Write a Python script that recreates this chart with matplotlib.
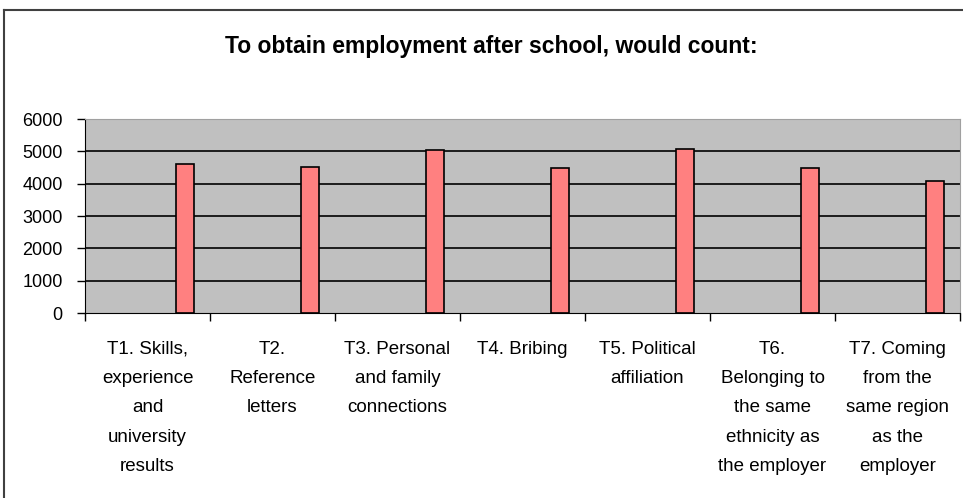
import matplotlib.pyplot as plt
import numpy as np

# survey totals per item
labels = ['T1. Skills,\nexperience\nand\nuniversity\nresults',
          'T2.\nReference\nletters',
          'T3. Personal\nand family\nconnections',
          'T4. Bribing',
          'T5. Political\naffiliation',
          'T6.\nBelonging to\nthe same\nethnicity as\nthe employer',
          'T7. Coming\nfrom the\nsame region\nas the\nemployer']
counts = [4600, 4530, 5030, 4480, 5070, 4470, 4080]
yticks = [0, 1000, 2000, 3000, 4000, 5000, 6000]

plt.rcParams['font.family'] = ['Liberation Sans', 'DejaVu Sans']

fig = plt.figure(figsize=(9.63, 4.98), dpi=100)
ax = fig.add_axes([85/963, 1-313/498, 875/963, 194/498])

x = np.arange(len(counts))
ax.set_facecolor('#C0C0C0')
for y in yticks[1:-1]:
  ax.axhline(y, color='black', lw=1.2, zorder=1)
ax.bar(x + 0.8, counts, width=0.15, color='#FF8080', edgecolor='black', lw=1.2, zorder=2)

ax.set_xlim(0, len(counts))
ax.set_ylim(0, 6000)
ax.set_yticks(yticks)
ax.tick_params(axis='y', direction='out', length=6, width=1, labelsize=13, pad=10)

ax.set_xticks(np.arange(len(counts) + 1))
ax.set_xticklabels([])
ax.set_xticks(x + 0.5, minor=True)
ax.set_xticklabels(labels, minor=True, fontsize=13.5, linespacing=1.95, va='top')
ax.tick_params(axis='x', which='minor', length=0, pad=20)
ax.tick_params(axis='x', which='major', direction='out', length=6, width=1)

ax.spines['left'].set_color('black')
ax.spines['bottom'].set_color('black')
ax.spines['top'].set_color('#A0A0A0')
ax.spines['right'].set_color('#A0A0A0')

fig.text(491/963, 1-47/498, 'To obtain employment after school, would count:',
         ha='center', va='center', fontsize=16.5, fontweight='bold')

# outer chart frame
fig.add_artist(plt.Line2D([4/963, 4/963], [0, 1-10/498], color='#404040', lw=1.5, transform=fig.transFigure))
fig.add_artist(plt.Line2D([4/963, 1], [1-10/498, 1-10/498], color='#404040', lw=1.5, transform=fig.transFigure))

fig.savefig('out.png', dpi=100)
